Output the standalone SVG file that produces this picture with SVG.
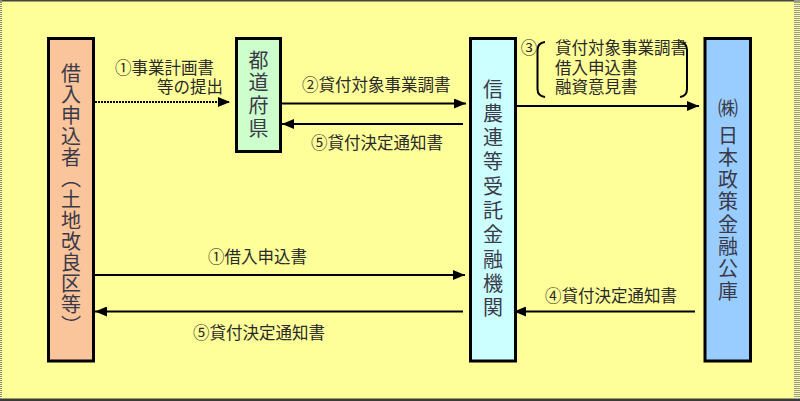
<svg xmlns="http://www.w3.org/2000/svg" width="800" height="401" viewBox="0 0 800 401">
<defs>
<marker id="ah" markerUnits="userSpaceOnUse" markerWidth="12" markerHeight="10" refX="12" refY="5" orient="auto">
<path d="M0,0 L12,5 L0,10 z" fill="#000"/>
</marker>
<style>
.box{stroke:#000;stroke-width:3}
.vt{font-family:"Noto Sans CJK JP","Noto Sans CJK SC",sans-serif;font-size:20px;fill:#3a3a48;writing-mode:vertical-rl;text-anchor:start}
.lbl{font-family:"Noto Sans CJK JP","Noto Sans CJK SC",sans-serif;font-size:16.5px;fill:#2a2a2a}
.ln{stroke:#000;stroke-width:2;fill:none}
.br{stroke:#000;stroke-width:2;fill:none}
</style>
</defs>
<rect x="0" y="0" width="800" height="401" fill="#FFFF99"/>
<rect x="0" y="0" width="800" height="1.5" fill="#444"/>
<rect x="0" y="398.5" width="800" height="2.5" fill="#3a3a3a"/>
<line x1="1" y1="0" x2="1" y2="399" stroke="#888" stroke-width="2" stroke-dasharray="1 1"/>
<line x1="797" y1="0" x2="797" y2="399" stroke="#999" stroke-width="6" stroke-dasharray="1 1"/>

<g id="node-applicant">
<rect class="box" x="48.5" y="38.5" width="45" height="322.5" fill="#FAC59B"/>
<text class="vt" x="71" y="63.5" style="letter-spacing:1px">借入申込者（土地改良区等）</text>
</g>
<g id="node-prefecture">
<rect class="box" x="236.5" y="38.5" width="44" height="113" fill="#CCFFCC"/>
<text class="vt" x="258.5" y="50" style="letter-spacing:2.7px">都道府県</text>
</g>
<g id="node-bank">
<rect class="box" x="470.5" y="38.5" width="45" height="322.5" fill="#CCFFFF"/>
<text class="vt" x="493" y="79" style="letter-spacing:4.3px">信農連等受託金融機関</text>
</g>
<g id="node-jfc">
<rect class="box" x="705" y="38.5" width="45.5" height="322.5" fill="#99CCFF"/>
<text class="vt" x="728" y="98" style="letter-spacing:0px">㈱</text>
<text class="vt" x="728" y="125" style="letter-spacing:2.3px">日本政策金融公庫</text>
</g>

<g id="connectors">
<line class="ln" x1="95" y1="102" x2="230" y2="102" stroke-width="2.5" stroke-dasharray="2 1" marker-end="url(#ah)"/>
<line class="ln" x1="282" y1="103.5" x2="466" y2="103.5" marker-end="url(#ah)"/>
<line class="ln" x1="463" y1="124" x2="282" y2="124" marker-end="url(#ah)"/>
<line class="ln" x1="517" y1="106" x2="699" y2="106" marker-end="url(#ah)"/>
<line class="ln" x1="95" y1="275" x2="465" y2="275" marker-end="url(#ah)"/>
<line class="ln" x1="463" y1="311.5" x2="95" y2="311.5" marker-end="url(#ah)"/>
<line class="ln" x1="695" y1="311.5" x2="514" y2="311.5" marker-end="url(#ah)"/>
<path class="br" d="M545,42 Q537.5,43 537.5,50 L537.5,89 Q537.5,96 545,97"/>
<path class="br" d="M680,42 Q687,43 687,50 L687,89 Q687,96 680,97"/>
</g>

<g id="labels">
<text class="lbl"><tspan x="115" y="74">①事業計画書</tspan><tspan x="157" y="93">等の提出</tspan></text>
<text class="lbl" x="302" y="91">②貸付対象事業調書</text>
<text class="lbl" x="311" y="149">⑤貸付決定通知書</text>
<text class="lbl" x="529" y="54" text-anchor="middle">③</text>
<text class="lbl"><tspan x="555" y="54">貸付対象事業調書</tspan><tspan x="555" y="73.5">借入申込書</tspan><tspan x="555" y="93">融資意見書</tspan></text>
<text class="lbl" x="208" y="263">①借入申込書</text>
<text class="lbl" x="193" y="339">⑤貸付決定通知書</text>
<text class="lbl" x="545" y="302">④貸付決定通知書</text>
</g>
</svg>
